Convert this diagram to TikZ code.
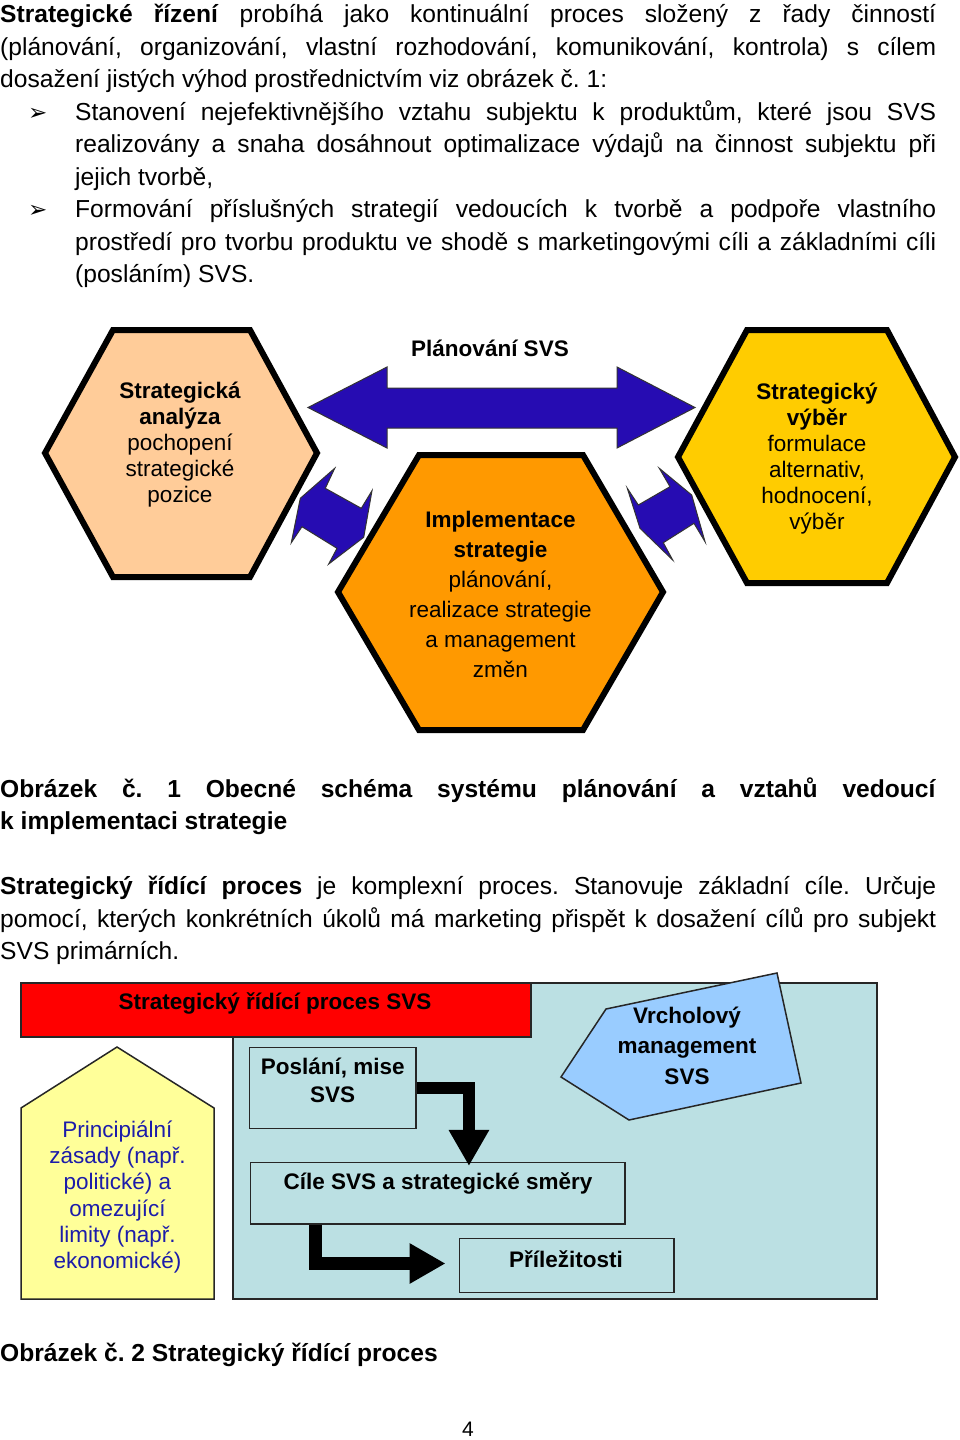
\documentclass[tikz,border=0pt]{standalone}
\usepackage{fontspec}
\setmainfont{Liberation Sans}
\newfontfamily\dejavu{DejaVu Sans}
\usetikzlibrary{calc,arrows.meta}
\definecolor{peach}{RGB}{255,204,153}
\definecolor{orng}{RGB}{255,153,0}
\definecolor{yell}{RGB}{255,204,0}
\definecolor{arrblue}{RGB}{38,12,178}
\definecolor{bgteal}{RGB}{187,224,227}
\definecolor{lyellow}{RGB}{255,255,153}
\definecolor{lblue}{RGB}{153,204,255}
\definecolor{txtblue}{RGB}{28,28,170}
\definecolor{barred}{RGB}{255,0,0}
\frenchspacing
\begin{document}
\begin{tikzpicture}[x=1pt,y=-1pt,
  body/.style={inner sep=0pt, anchor=base west, font=\fontsize{24.6}{32.5}\selectfont},
  bul/.style={inner sep=0pt, anchor=base west, font=\dejavu\fontsize{23}{23}\selectfont},
  hextxt/.style={inner sep=0pt, anchor=base, align=center, font=\fontsize{22.5}{26}\selectfont},
  hexshape/.style={draw=black, line width=6pt, line join=miter},
  blockarr/.style={fill=arrblue, draw=black!80, line width=1pt, line join=miter},
  boxnode/.style={draw=black!85, line width=1.5pt, fill=bgteal, inner sep=0pt},
  elbow/.style={draw=black, line width=12.5pt, line join=miter, -{Triangle[width=38pt,length=36pt]}}
]
\fill[white] (0,0) rectangle (960,1440);
\useasboundingbox (0,0) rectangle (960,1440);

% ---------- paragraph 1 ----------
\node[body] (p1) at (0,22.7) {\makebox[936pt][s]{\textbf{Strategické řízení} probíhá jako kontinuální proces složený z řady činností}};
\node[body] (p2) at (0,55.3) {\makebox[936pt][s]{(plánování, organizování, vlastní rozhodování, komunikování, kontrola) s cílem}};
\node[body] (p3) at (0,87.8) {dosažení jistých výhod prostřednictvím viz obrázek č. 1:};
\node[bul] (bu1) at (28,120.3) {➢};
\node[body] (p4) at (75,120.3) {\makebox[861pt][s]{Stanovení nejefektivnějšího vztahu subjektu k produktům, které jsou SVS}};
\node[body] (p5) at (75,152.8) {\makebox[861pt][s]{realizovány a snaha dosáhnout optimalizace výdajů na činnost subjektu při}};
\node[body] (p6) at (75,185.2) {jejich tvorbě,};
\node[bul] (bu2) at (28,217.6) {➢};
\node[body] (p7) at (75,217.6) {\makebox[861pt][s]{Formování příslušných strategií vedoucích k tvorbě a podpoře vlastního}};
\node[body] (p8) at (75,250.0) {\makebox[861pt][s]{prostředí pro tvorbu produktu ve shodě s marketingovými cíli a základními cíli}};
\node[body] (p9) at (75,282.4) {(posláním) SVS.};

% ---------- diagram 1 ----------
\draw[hexshape, fill=peach] (45,453) -- (113,330) -- (250,330) -- (317,453) -- (250,577) -- (113,577) -- cycle;
\draw[hexshape, fill=orng] (338,592) -- (419,455) -- (583,455) -- (663,592) -- (583,730) -- (419,730) -- cycle;
\draw[hexshape, fill=yell] (678,457) -- (747,330) -- (887,330) -- (955,457) -- (887,583) -- (747,583) -- cycle;

\node[hextxt] (sa) at (180,502.5) {\textbf{Strategická}\\\textbf{analýza}\\pochopení\\strategické\\pozice};
\node[hextxt, font=\fontsize{22.5}{30}\selectfont] (is) at (500.5,677.5) {\textbf{Implementace}\\\textbf{strategie}\\plánování,\\realizace strategie\\a management\\změn};
\node[hextxt] (sv) at (817,529.5) {\textbf{Strategický}\\\textbf{výběr}\\formulace\\alternativ,\\hodnocení,\\výběr};
\node[hextxt] (plan) at (490,356) {\textbf{Plánování SVS}};

% big double arrow
\draw[blockarr] (308,407.5) -- (387,367) -- (387,388) -- (617,388) -- (617,367) -- (695,407.5) -- (617,448) -- (617,428) -- (387,428) -- (387,448) -- cycle;
% small double arrows
\draw[blockarr] (334.7,468.3) -- (325.3,488.3) -- (361.3,508.3) -- (372,490.7) -- (363.7,537.3) -- (328.7,564) -- (337,548.3) -- (302,526.7) -- (291.3,542.7) -- (300.3,498.3) -- cycle;
\draw[blockarr] (659.3,468.3) -- (670,486.7) -- (638.3,505) -- (627.3,488.3) -- (640,528.3) -- (672.7,560) -- (663.3,542.7) -- (694,523.3) -- (705,541.7) -- (691.7,495) -- cycle;

% ---------- caption 1 and paragraph 2 ----------
\node[body] (c1) at (0,797) {\makebox[936pt][s]{\textbf{Obrázek č. 1 Obecné schéma systému plánování a vztahů vedoucí}}};
\node[body] (c2) at (0,829.5) {\textbf{k implementaci strategie}};
\node[body] (q1) at (0,894.5) {\makebox[936pt][s]{\textbf{Strategický řídící proces} je komplexní proces. Stanovuje základní cíle. Určuje}};
\node[body] (q2) at (0,927) {\makebox[936pt][s]{pomocí, kterých konkrétních úkolů má marketing přispět k dosažení cílů pro subjekt}};
\node[body] (q3) at (0,959.5) {SVS primárních.};

% ---------- diagram 2 ----------
\draw[draw=black!85, line width=1.5pt, fill=bgteal] (233,983) rectangle (877,1299);
\draw[draw=black!85, line width=1.5pt, fill=barred] (21,983) rectangle (531,1037);
\node[hextxt] (spt) at (275,1009) {\textbf{Strategický řídící proces SVS}};
\draw[draw=black!85, line width=1.5pt, fill=lyellow, line join=miter] (21,1299) -- (21,1108) -- (117,1047) -- (214,1108) -- (214,1299) -- cycle;
\node[hextxt, text=txtblue, font=\fontsize{22.5}{26.2}\selectfont] (pz) at (117.5,1268.5) {Principiální\\zásady (např.\\politické) a\\omezující\\limity (např.\\ekonomické)};

\node[boxnode, minimum width=166.7pt, minimum height=81.4pt] (poslani) at (332.7,1088) {};
\node[hextxt, font=\fontsize{22.5}{27.5}\selectfont] (poslaniT) at (332.7,1102) {\textbf{Poslání, mise}\\\textbf{SVS}};
\node[boxnode, minimum width=374.3pt, minimum height=61.3pt] (cile) at (437.85,1193.35) {};
\node[hextxt] (cileT) at (438,1189.5) {\textbf{Cíle SVS a strategické směry}};
\node[boxnode, minimum width=214.7pt, minimum height=54.4pt] (prilez) at (566.65,1265.5) {};
\node[hextxt] (prilezT) at (566,1267) {\textbf{Příležitosti}};

\draw[draw=black!85, line width=1.5pt, fill=lblue, line join=miter] (606,1009) -- (777,973) -- (801,1083) -- (629,1120) -- (561,1077) -- cycle;
\node[hextxt, font=\fontsize{22.5}{30.5}\selectfont] (vm) at (687,1084) {\textbf{Vrcholový}\\\textbf{management}\\\textbf{SVS}};

\draw[elbow] (poslani.east) -| ($(cile.north west)+(219,4)$);
\draw[elbow] ($(cile.south west)+(65.6,0)$) |- ($(prilez.west)+(-13,-2)$);

% ---------- caption 2 and page number ----------
\node[body] (c3) at (0,1361) {\textbf{Obrázek č. 2 Strategický řídící proces}};
\node[inner sep=0pt, anchor=base, font=\fontsize{21}{21}\selectfont] (pg) at (468,1436) {4};
\end{tikzpicture}
\end{document}
